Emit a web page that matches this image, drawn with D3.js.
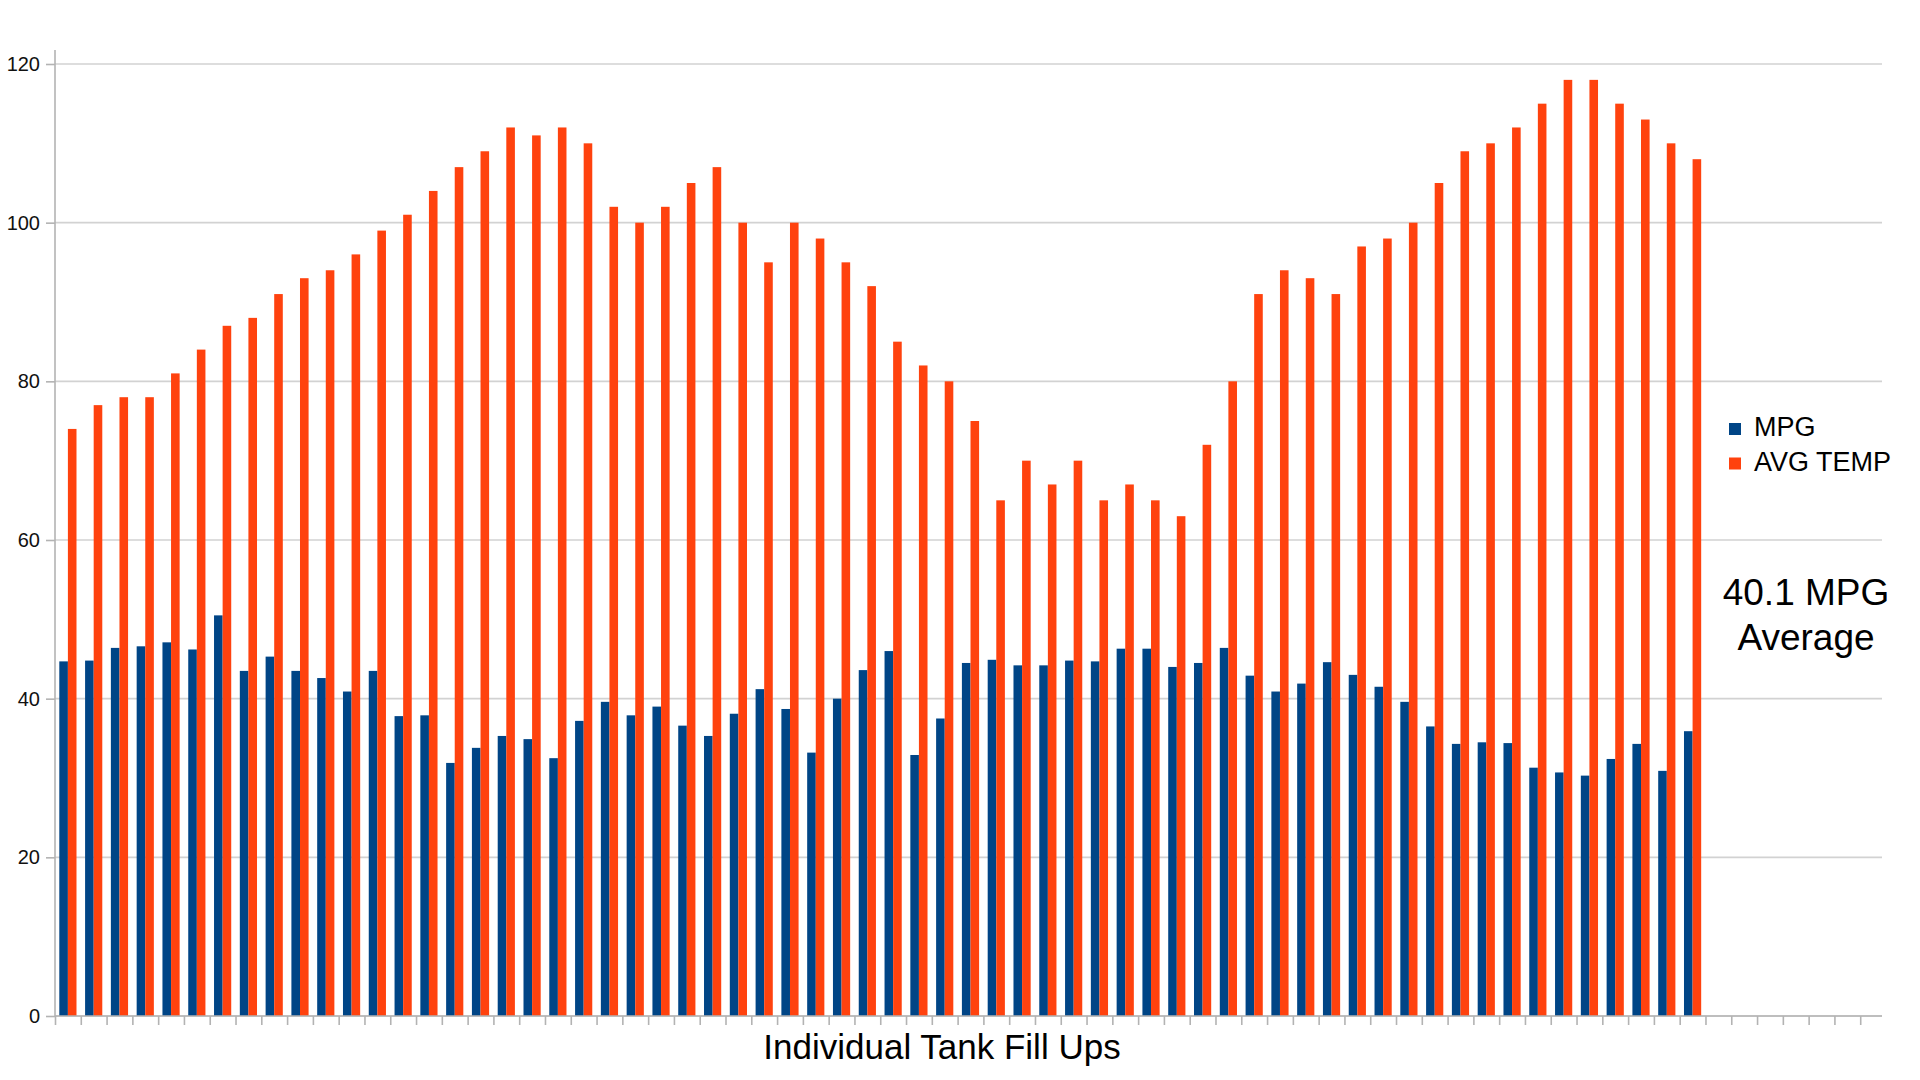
<!DOCTYPE html>
<html>
<head>
<meta charset="utf-8">
<script src="https://cdn.jsdelivr.net/npm/d3@7"></script>
<style>
body { margin: 0; background: #fff; }
svg { display: block; font-family: 'Liberation Sans', Arial, sans-serif; }
</style>
</head>
<body>
<svg width="1920" height="1080"></svg>
<script>
// series, one value per tank fill up
const seriesNames = ['MPG', 'AVG TEMP'];
const mpg = [44.7, 44.8, 46.4, 46.6, 47.1, 46.2, 50.5, 43.5, 45.3, 43.5,
    42.6, 40.9, 43.5, 37.8, 37.9, 31.9, 33.8, 35.3, 34.9, 32.5,
    37.2, 39.6, 37.9, 39.0, 36.6, 35.3, 38.1, 41.2, 38.7, 33.2,
    40.0, 43.6, 46.0, 32.9, 37.5, 44.5, 44.9, 44.2, 44.2, 44.8,
    44.7, 46.3, 46.3, 44.0, 44.5, 46.4, 42.9, 40.9, 41.9, 44.6,
    43.0, 41.5, 39.6, 36.5, 34.3, 34.5, 34.4, 31.3, 30.7, 30.3,
    32.4, 34.3, 30.9, 35.9];
const avgTemp = [74, 77, 78, 78, 81, 84, 87, 88, 91, 93,
    94, 96, 99, 101, 104, 107, 109, 112, 111, 112,
    110, 102, 100, 102, 105, 107, 100, 95, 100, 98,
    95, 92, 85, 82, 80, 75, 65, 70, 67, 70,
    65, 67, 65, 63, 72, 80, 91, 94, 93, 91,
    97, 98, 100, 105, 109, 110, 112, 115, 118, 118,
    115, 113, 110, 108];
const yTicks = [0, 20, 40, 60, 80, 100, 120];
const axisTitle = 'Individual Tank Fill Ups';
const noteLines = ['40.1 MPG', 'Average'];

const colors = ['#004586', '#ff420e'];

var svg = d3.select('svg');

// plot area
let plotLeft = 55, plotRight = 1886, plotTop = 64, plotBottom = 1016;
let lineEnd = 1882;

// the category axis has a few empty slots after the last fill up
let slots = d3.range(mpg.length + 7);

let x = d3.scaleBand().domain(slots).range([plotLeft, plotRight]);
let xs = d3.scaleBand().domain(seriesNames).range([0, x.bandwidth()]).paddingOuter(0.5);
let y = d3.scaleLinear().domain([0, 120]).range([plotBottom, plotTop]);
let color = d3.scaleOrdinal().domain(seriesNames).range(colors);

// horizontal grid
svg.append('g').attr('id', 'grid')
    .selectAll('line').data(yTicks).join('line')
    .attr('x1', plotLeft).attr('x2', lineEnd)
    .attr('y1', d => y(d)).attr('y2', d => y(d))
    .attr('stroke', '#d2d2d2')
    .attr('stroke-width', 1.6);

// bars
let rows = mpg.map((m, i) => ({ i: i, values: [m, avgTemp[i]] }));
svg.append('g').attr('id', 'bars')
    .selectAll('g').data(rows).join('g')
    .attr('transform', d => 'translate(' + x(d.i) + ',0)')
    .selectAll('rect')
    .data(d => d.values.map((v, k) => ({ name: seriesNames[k], v: v })))
    .join('rect')
    .attr('x', d => xs(d.name))
    .attr('y', d => y(d.v))
    .attr('width', xs.bandwidth())
    .attr('height', d => plotBottom - y(d.v))
    .attr('fill', d => color(d.name));

// y axis
let yAxis = svg.append('g')
    .attr('transform', 'translate(' + plotLeft + ',0)')
    .call(d3.axisLeft(y).tickValues(yTicks).tickSize(9).tickPadding(6).tickSizeOuter(0));
yAxis.select('.domain').remove();
yAxis.selectAll('.tick line').attr('stroke', '#b3b3b3').attr('stroke-width', 1.6);
yAxis.selectAll('.tick text')
    .attr('font-size', 20)
    .attr('font-family', 'Liberation Sans, Arial, sans-serif')
    .attr('fill', '#111');
svg.append('line')
    .attr('x1', plotLeft).attr('x2', plotLeft)
    .attr('y1', 50).attr('y2', plotBottom)
    .attr('stroke', '#b3b3b3').attr('stroke-width', 1.6);

// x axis, ticks sit between the slots
let xt = d3.scaleLinear().domain([0, slots.length]).range([plotLeft, plotRight]);
let xAxis = svg.append('g')
    .attr('transform', 'translate(0,' + plotBottom + ')')
    .call(d3.axisBottom(xt).tickValues(slots).tickFormat('').tickSize(9));
xAxis.select('.domain').remove();
xAxis.selectAll('.tick line').attr('stroke', '#b3b3b3').attr('stroke-width', 1.6);
svg.append('line')
    .attr('x1', plotLeft).attr('x2', lineEnd)
    .attr('y1', plotBottom).attr('y2', plotBottom)
    .attr('stroke', '#b3b3b3').attr('stroke-width', 1.6);

svg.append('text')
    .attr('x', 942).attr('y', 1059)
    .attr('text-anchor', 'middle')
    .attr('font-size', 35)
    .attr('fill', '#000')
    .text(axisTitle);

// legend
let legend = svg.append('g').attr('id', 'legend')
    .selectAll('g').data(seriesNames).join('g')
    .attr('transform', (d, i) => 'translate(1729,' + (423 + i * 34.5) + ')');
legend.append('rect')
    .attr('width', 12).attr('height', 12)
    .attr('fill', d => color(d));
legend.append('text')
    .attr('x', 25).attr('y', 13)
    .attr('font-size', 27)
    .attr('fill', '#000')
    .text(d => d);

// average note
svg.append('g').attr('id', 'note')
    .selectAll('text').data(noteLines).join('text')
    .attr('x', 1806)
    .attr('y', (d, i) => 605 + i * 45)
    .attr('text-anchor', 'middle')
    .attr('font-size', 37)
    .attr('fill', '#000')
    .text(d => d);
</script>
</body>
</html>
